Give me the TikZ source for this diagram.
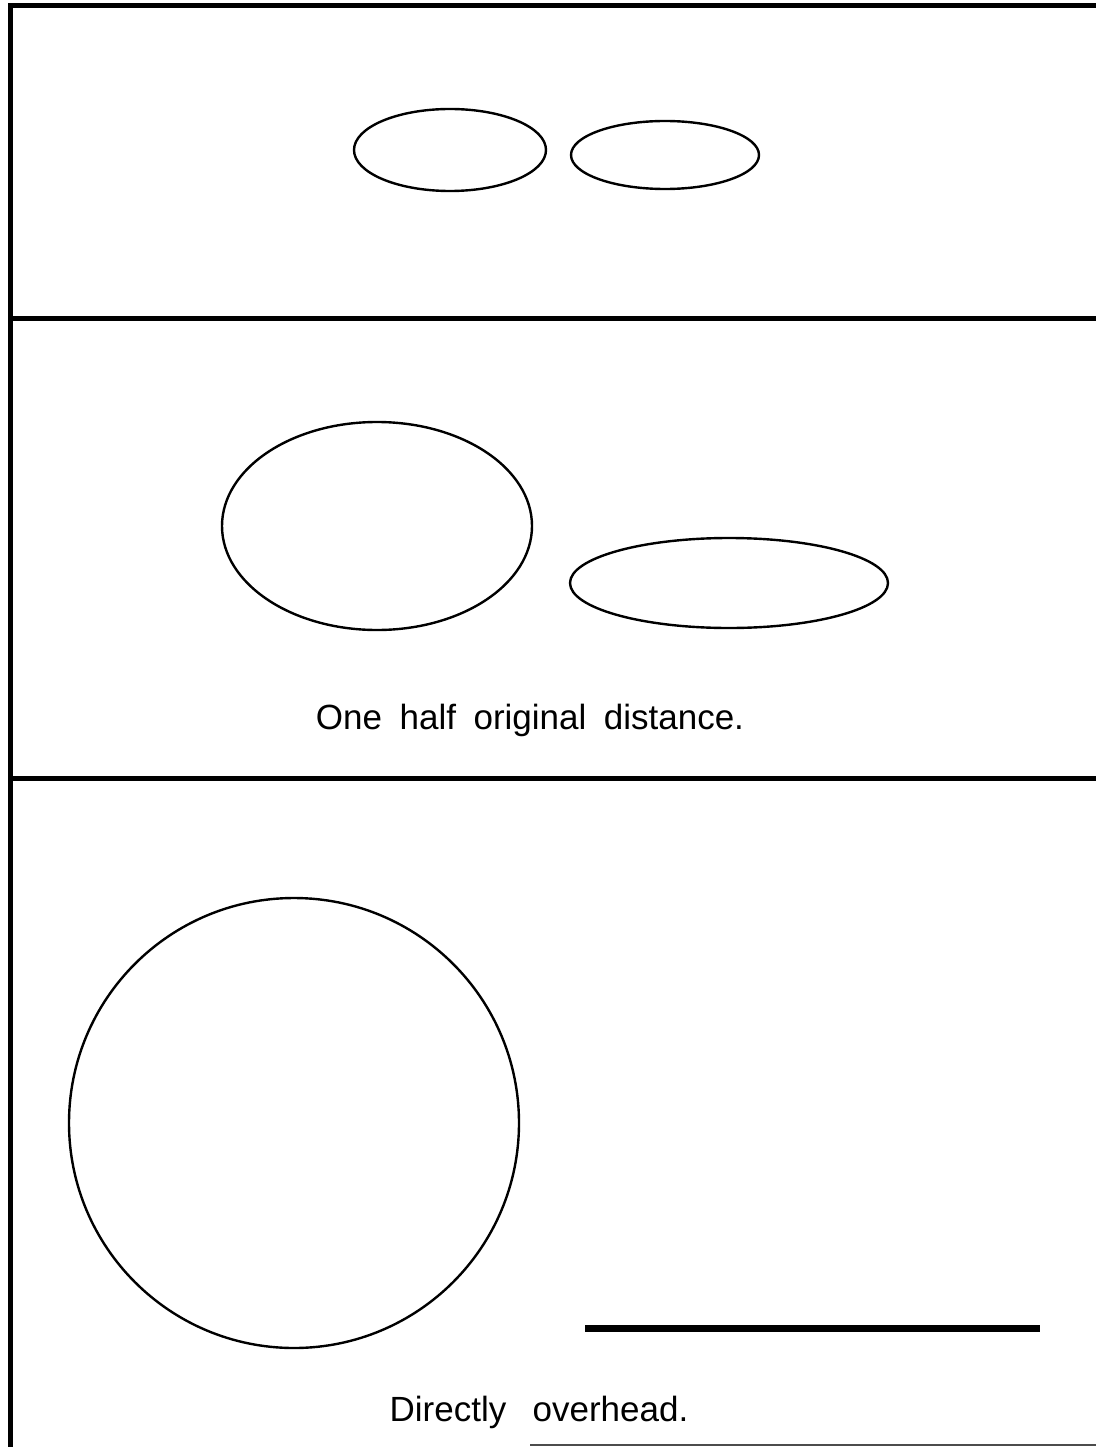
\documentclass[tikz,border=0pt]{standalone}
\usepackage{fontspec}
\setmainfont{Liberation Sans}
\begin{document}
\begin{tikzpicture}[x=1pt,y=-1pt,
  frame/.style={line width=5pt},
  outline/.style={line width=2.4pt},
  caption/.style={font=\fontsize{35}{42}\selectfont, anchor=base, inner sep=0pt}]
\useasboundingbox (0,0) rectangle (1096,1447);
% frame
\draw[frame] (10,1447) -- (10,6) -- (1096,6);
\draw[frame] (10,318) -- (1096,318);
\draw[frame] (10,778) -- (1096,778);
\draw[line width=1.2pt, black!70] (530,1445) -- (1096,1445);
% panel 1
\draw[outline] (450,150) ellipse [x radius=96, y radius=41];
\draw[outline] (665,155) ellipse [x radius=94, y radius=34];
% panel 2
\draw[outline] (377,526) ellipse [x radius=155, y radius=104];
\draw[outline] (729,583) ellipse [x radius=159, y radius=45];
\node[caption] (cap1) at (530,729) {One\hspace{0.5em}half\hspace{0.5em}original\hspace{0.5em}distance.};
% panel 3
\draw[outline] (294,1123) circle [radius=225];
\coordinate (ba) at (585,1328);
\coordinate (bb) at (1040,1328);
\draw[line width=7pt] (ba) -- (bb);
\node[caption] (cap2) at (539,1421) {Directly\hspace{0.75em}overhead.};
\end{tikzpicture}
\end{document}
